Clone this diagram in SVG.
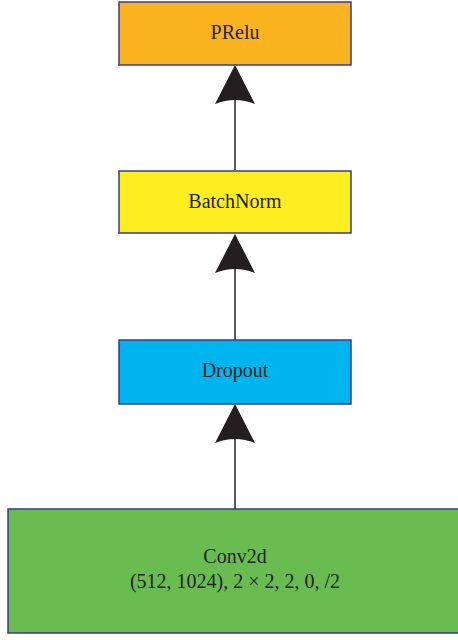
<svg xmlns="http://www.w3.org/2000/svg" width="458" height="640" viewBox="0 0 458 640">
<style>
.box{stroke:#3b3a8e;stroke-width:1.5}
.lbl{font-family:"Liberation Serif",serif;font-size:20px;fill:#231f20;text-anchor:middle}
.edge{stroke:#231f20;stroke-width:1.5;fill:none}
.head{fill:#231f20}
</style>
<rect width="458" height="640" fill="#fff"/>
<g id="connectors">
<line class="edge" x1="235" y1="170" x2="235" y2="95"/>
<path class="head" d="M235,65 L255,104 Q235,96 215,104 Z"/>
<line class="edge" x1="235" y1="340" x2="235" y2="265"/>
<path class="head" d="M235,234 L255,273 Q235,265 215,273 Z"/>
<line class="edge" x1="235" y1="509" x2="235" y2="435"/>
<path class="head" d="M235,404 L255,443 Q235,435 215,443 Z"/>
</g>
<g id="prelu">
<rect class="box" x="119" y="2" width="232" height="63" fill="#fbb31f"/>
<text class="lbl" x="235" y="39">PRelu</text>
</g>
<g id="batchnorm">
<rect class="box" x="119" y="171" width="232" height="62" fill="#fcee21"/>
<text class="lbl" x="235" y="208">BatchNorm</text>
</g>
<g id="dropout">
<rect class="box" x="119" y="340" width="232" height="64" fill="#00b4ef"/>
<text class="lbl" x="235" y="377">Dropout</text>
</g>
<g id="conv2d">
<rect class="box" x="8" y="509" width="458" height="124" fill="#68bc50"/>
<text class="lbl" x="235" y="563">Conv2d</text>
<text class="lbl" x="235" y="588">(512, 1024), 2 × 2, 2, 0, /2</text>
</g>
</svg>
